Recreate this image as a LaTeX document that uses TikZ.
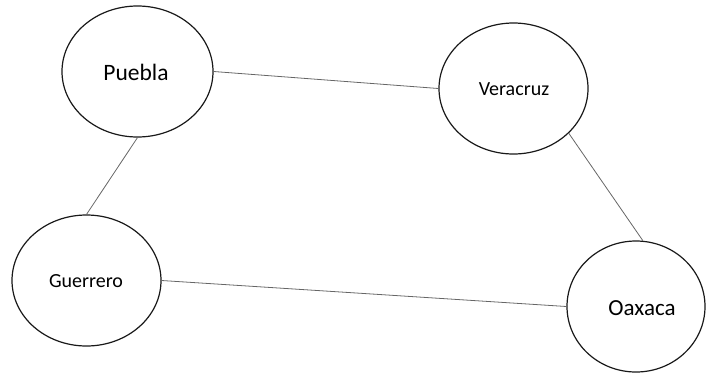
\documentclass[tikz,border=0pt]{standalone}
\usepackage{fontspec}
\setmainfont{Carlito}
\usetikzlibrary{shapes.geometric}
\begin{document}
\begin{tikzpicture}[x=1pt,y=-1pt,
  city/.style={ellipse,draw=black!90,line width=1.2pt,inner sep=0pt},
  link/.style={draw=black!60,line width=0.8pt}]
\useasboundingbox (0,0) rectangle (706,373);
\node[city,minimum width=151pt,minimum height=131pt] (p) at (137.5,71.5) {};
\node[font=\fontsize{23.5}{28}\selectfont] (pt) at (136,72) {Puebla};
\node[city,minimum width=149pt,minimum height=131pt] (v) at (513.5,88.5) {};
\node[font=\fontsize{20}{24}\selectfont] (vt) at (514,89) {Veracruz};
\node[city,minimum width=149pt,minimum height=131pt] (g) at (86.5,280.5) {};
\node[font=\fontsize{20}{24}\selectfont] (gt) at (86,281) {Guerrero};
\node[city,minimum width=138pt,minimum height=131pt] (o) at (636,306.5) {};
\node[font=\fontsize{23}{28}\selectfont] (ot) at (642,308) {Oaxaca};
\draw[link] (p.east) -- (v.west);
\draw[link] (p.south) -- (g.north);
\draw[link] (v.-39) -- (o.84);
\draw[link] (g.east) -- (o.west);
\end{tikzpicture}
\end{document}
